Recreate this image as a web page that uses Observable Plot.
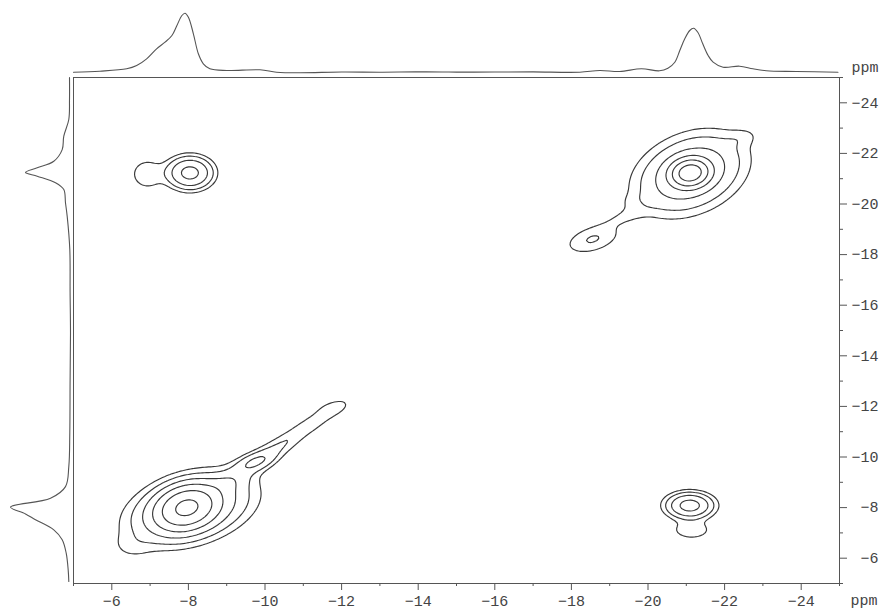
<!DOCTYPE html>
<html>
<head>
<meta charset="utf-8">
<script src="https://cdn.jsdelivr.net/npm/d3@7"></script>
<script src="https://cdn.jsdelivr.net/npm/@observablehq/plot@0.6"></script>
<style>
  html, body { margin: 0; padding: 0; background: #fff; }
  #wrap { position: relative; width: 882px; height: 610px; }
  #wrap svg { position: absolute; left: 0; top: 0; background: transparent !important;
    font-family: "Liberation Mono", "DejaVu Sans Mono", monospace !important; font-size: 15px !important; }
  #wrap svg text { font-family: "Liberation Mono", "DejaVu Sans Mono", monospace !important; }
</style>
</head>
<body>
<div id="wrap"></div>
<script>
// ---------- tick values ----------
const xTicks = [-6, -8, -10, -12, -14, -16, -18, -20, -22, -24];
const xMinor = [-5, -7, -9, -11, -13, -15, -17, -19, -21, -23, -25];
const yTicks = [-24, -22, -20, -18, -16, -14, -12, -10, -8, -6];
const yMinor = [-25, -23, -21, -19, -17, -15, -13, -11, -9, -7, -5];
const unitLabel = "ppm";

// ---------- top projection (F2) : ppm, intensity ----------
const topPpm = [-5.0, -5.69, -6.39, -6.65, -6.91, -7.17, -7.39, -7.57, -7.70, -7.83, -7.91, -8.0, -8.13, -8.26, -8.39, -8.56, -9.0, -9.87, -10.3, -10.91,
  -12.0, -13.0, -14.0, -15.0, -16.0, -17.0, -18.22, -18.74, -19.26, -19.83, -20.30, -20.52, -20.70, -20.83, -20.96, -21.09, -21.19, -21.30, -21.43, -21.57,
  -21.70, -21.96, -22.39, -22.74, -23.09, -23.87, -24.96];
const topInt = [0.3, 1.3, 3.7, 7, 13.7, 23.7, 30.3, 37, 47, 57, 59.3, 55.3, 38.7, 18.7, 8.7, 3.7, 2, 2.7, 0.3, -0.3,
  0.5, 0.3, 0.6, 0.4, 0.5, 0.6, 0.3, 2, 1, 3.7, 1.7, 4.3, 10.3, 22, 33.7, 42, 44.3, 40.3, 28.7, 17,
  10.3, 5.3, 6.3, 3.7, 1.7, 1, 0.3];

// ---------- left projection (F1) : ppm, intensity ----------
const leftPpm = [-25.0, -24.13, -23.34, -22.68, -22.15, -21.69, -21.43, -21.25, -21.10, -20.84, -20.57, -20.04, -19.51, -18.20, -16.5, -14.91, -13.0, -10.96,
  -9.62, -8.83, -8.37, -8.02, -7.75, -7.52, -7.12, -6.73, -6.20, -5.53, -5.08];
const leftInt = [0, 0, 0.7, 5.7, 7.3, 15.7, 32.3, 44, 32.3, 14, 5.7, 4, 2.3, -0.3, -0.6, -1, -0.6, -0.3,
  0.7, 4, 19, 59, 44, 34, 15.7, 7.3, 3.3, 1.3, 0.7];

// ---------- 2D peak components (ppm): diagonal -8, diagonal -21.2, cross (-8,-21.2), cross (-21.2,-8) ----------
const pkX   = [-7.95, -8.05, -9.1, -9.75, -10.3, -11.15, -11.78, -6.5,   -21.1, -21.1, -22.45, -19.4, -18.55, -19.65,   -8.04, -6.92,   -21.09, -21.1, -21.14];
const pkY   = [-8.0, -7.95, -9.05, -9.8, -10.35, -11.25, -11.95, -6.45,  -21.23, -21.2, -22.62, -19.5, -18.6, -20.1,      -21.23, -21.18, -8.08, -8.1, -7.1];
const pkAmp = [30, 9, 1.7, 3.9, 1.3, 1.7, 0.8, 0.8,                     46, 7.3, 0.8, 0.9, 2.1, 0.5,                  9.9, 1.8,       10, 0.6, 1.6];
const pkSx  = [0.42, 0.88, 0.4, 0.35, 0.4, 0.65, 0.3, 0.35,             0.265, 0.8, 0.3, 0.45, 0.48, 0.3,             0.34, 0.3,      0.33, 0.65, 0.38];
const pkSy  = [0.46, 0.78, 0.35, 0.28, 0.35, 0.65, 0.22, 0.35,          0.29, 0.9, 0.25, 0.3, 0.39, 0.25,             0.37, 0.42,     0.28, 0.45, 0.27];
const pkRho = [0.2, 0.35, 0.5, 0.5, 0.6, 0.9, 0.3, 0,                   0.1, 0.3, 0.3, 0.7, 0.4, 0.3,                 0, 0,           0, 0, 0];
const contourLevels = [1, 2, 4, 8, 16, 32];

function field(x, y) {
  let s = 0;
  for (let i = 0; i < pkX.length; i++) {
    const u = (x - pkX[i]) / pkSx[i], v = (y - pkY[i]) / pkSy[i], r = pkRho[i];
    s += pkAmp[i] * Math.exp(-(u * u - 2 * r * u * v + v * v) / (2 * (1 - r * r)));
  }
  return s;
}

const fmt = d => "\u2212" + Math.abs(d);
const W = 882, H = 610;
const M = {left: 73, right: 43, top: 77, bottom: 27};
const font = {fontFamily: "'Liberation Mono', monospace", fontSize: "15px", color: "#444", background: "transparent"};

const mainPlot = Plot.plot({
  width: W, height: H,
  marginLeft: M.left, marginRight: M.right, marginTop: M.top, marginBottom: M.bottom,
  style: font,
  x: {domain: [-5, -25]},
  y: {domain: [-5, -25]},
  marks: [
    Plot.contour({
      x1: -5, x2: -25, y1: -5, y2: -25,
      value: field,
      thresholds: contourLevels,
      stroke: "#383838", strokeWidth: 1.15, fill: "none"
    }),
    Plot.frame({stroke: "#555", strokeWidth: 1}),
    Plot.axisX(xTicks, {anchor: "bottom", tickSize: 7, tickPadding: 5, tickFormat: fmt, label: null, stroke: "#555", fill: "#444"}),
    Plot.axisX(xMinor, {anchor: "bottom", tickSize: 3, tickFormat: () => "", label: null, stroke: "#555"}),
    Plot.axisY(yTicks, {anchor: "right", tickSize: 7, tickPadding: 32, textAnchor: "end", tickFormat: fmt, label: null, stroke: "#555", fill: "#444"}),
    Plot.axisY(yMinor, {anchor: "right", tickSize: 3, tickFormat: () => "", label: null, stroke: "#555"}),
    Plot.text([unitLabel], {frameAnchor: "bottom-right", dx: 38, dy: 17, textAnchor: "end", lineAnchor: "middle", fill: "#444"}),
    Plot.text([unitLabel], {frameAnchor: "top-right", dx: 39, dy: -6, textAnchor: "end", lineAnchor: "bottom", fill: "#444"})
  ]
});

const topPlot = Plot.plot({
  width: W, height: 77,
  marginLeft: M.left, marginRight: M.right, marginTop: 0, marginBottom: 5,
  style: font,
  x: {domain: [-5, -25], axis: null},
  y: {domain: [0, 72], axis: null},
  marks: [
    Plot.line(topPpm.map((p, i) => ({p, v: topInt[i]})), {x: "p", y: "v", curve: "catmull-rom", stroke: "#555", strokeWidth: 1.1})
  ]
});

const leftPlot = Plot.plot({
  width: M.left, height: H,
  marginLeft: 0, marginRight: 4, marginTop: M.top, marginBottom: M.bottom,
  style: font,
  x: {domain: [69, 0], axis: null},
  y: {domain: [-5, -25], axis: null},
  marks: [
    Plot.line(leftPpm.map((p, i) => ({p, v: leftInt[i]})), {x: "v", y: "p", curve: "catmull-rom", stroke: "#555", strokeWidth: 1.1})
  ]
});

document.getElementById("wrap").append(mainPlot, topPlot, leftPlot);
</script>
</body>
</html>
